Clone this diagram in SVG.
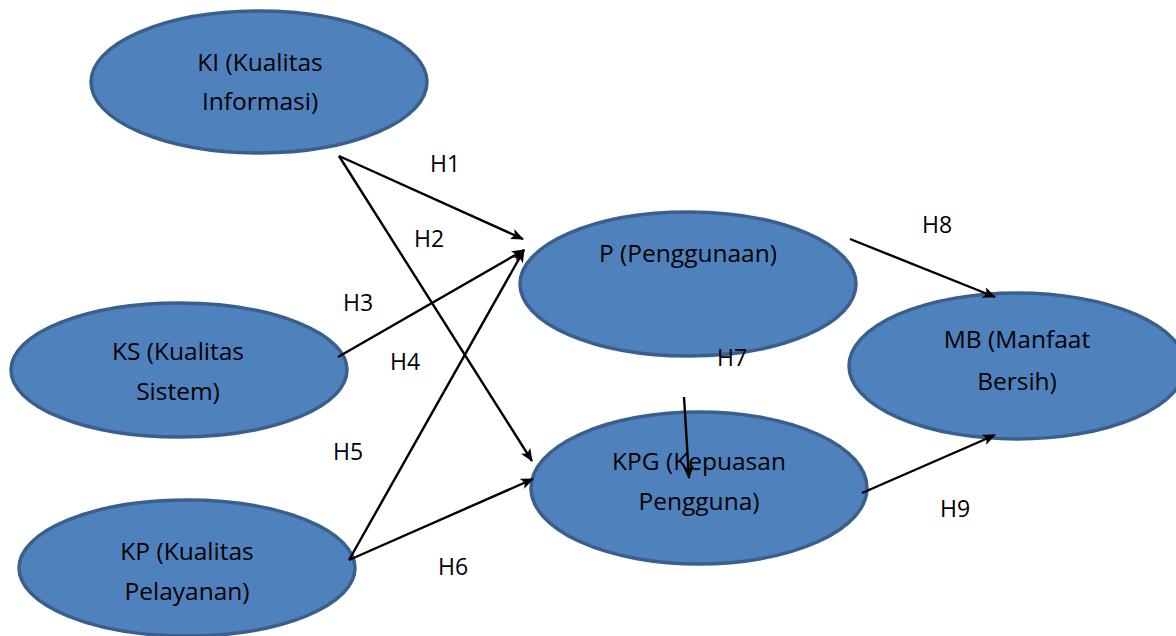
<svg xmlns="http://www.w3.org/2000/svg" width="1176" height="636" viewBox="0 0 1176 636">
<defs>
<style>
.node{fill:#4f81bd;stroke:#3a5f8d;stroke-width:3.5}
.t{font-family:"Open Sans","Liberation Sans",sans-serif;font-size:24.5px;fill:#000;text-anchor:middle}
.lbl{font-family:"Open Sans","Liberation Sans",sans-serif;font-size:23px;fill:#000}
.c{stroke:#000;stroke-width:2.4;fill:none}
</style>
<marker id="ah" viewBox="0 0 13 11" refX="12" refY="5.5" markerWidth="13" markerHeight="11" markerUnits="userSpaceOnUse" orient="auto">
<path d="M0,0 L13,5.5 L0,11 L3,5.5 Z" fill="#000"/>
</marker>
</defs>
<rect width="1176" height="636" fill="#fff"/>
<g id="ki"><ellipse class="node" cx="259" cy="82" rx="168" ry="71"/><text class="t" x="260" y="71">KI (Kualitas</text><text class="t" x="260" y="110">Informasi)</text></g>
<g id="ks"><ellipse class="node" cx="179" cy="370" rx="168" ry="67"/><text class="t" x="178" y="360">KS (Kualitas</text><text class="t" x="178" y="400">Sistem)</text></g>
<g id="kp"><ellipse class="node" cx="187" cy="568" rx="168" ry="68"/><text class="t" x="187" y="560">KP (Kualitas</text><text class="t" x="187" y="600">Pelayanan)</text></g>
<g id="p"><ellipse class="node" cx="688" cy="284" rx="168" ry="72"/><text class="t" x="688" y="262">P (Penggunaan)</text></g>
<g id="mb"><ellipse class="node" cx="1017" cy="366" rx="168" ry="73"/><text class="t" x="1017" y="348">MB (Manfaat</text><text class="t" x="1017" y="390">Bersih)</text></g>
<g id="kpg"><ellipse class="node" cx="699" cy="488" rx="168" ry="76"/><text class="t" x="699" y="470">KPG (Kepuasan</text><text class="t" x="699" y="510">Pengguna)</text></g>
<g id="connectors">
<line class="c" x1="339" y1="156" x2="523" y2="239" marker-end="url(#ah)"/>
<line class="c" x1="339" y1="156" x2="532" y2="461" marker-end="url(#ah)"/>
<line class="c" x1="338" y1="357" x2="524" y2="250" marker-end="url(#ah)"/>
<line class="c" x1="349" y1="560" x2="524" y2="250" marker-end="url(#ah)"/>
<line class="c" x1="349" y1="560" x2="533" y2="479" marker-end="url(#ah)"/>
<line class="c" x1="684" y1="397" x2="689" y2="478" marker-end="url(#ah)"/>
<line class="c" x1="850" y1="239" x2="995" y2="297" marker-end="url(#ah)"/>
<line class="c" x1="862" y1="493" x2="995" y2="435" marker-end="url(#ah)"/>
</g>
<g id="labels">
<text class="lbl" x="430" y="172">H1</text>
<text class="lbl" x="414" y="247">H2</text>
<text class="lbl" x="343" y="311">H3</text>
<text class="lbl" x="390" y="370">H4</text>
<text class="lbl" x="333" y="460">H5</text>
<text class="lbl" x="438" y="575">H6</text>
<text class="lbl" x="717" y="366">H7</text>
<text class="lbl" x="922" y="233">H8</text>
<text class="lbl" x="940" y="517">H9</text>
</g>
</svg>
